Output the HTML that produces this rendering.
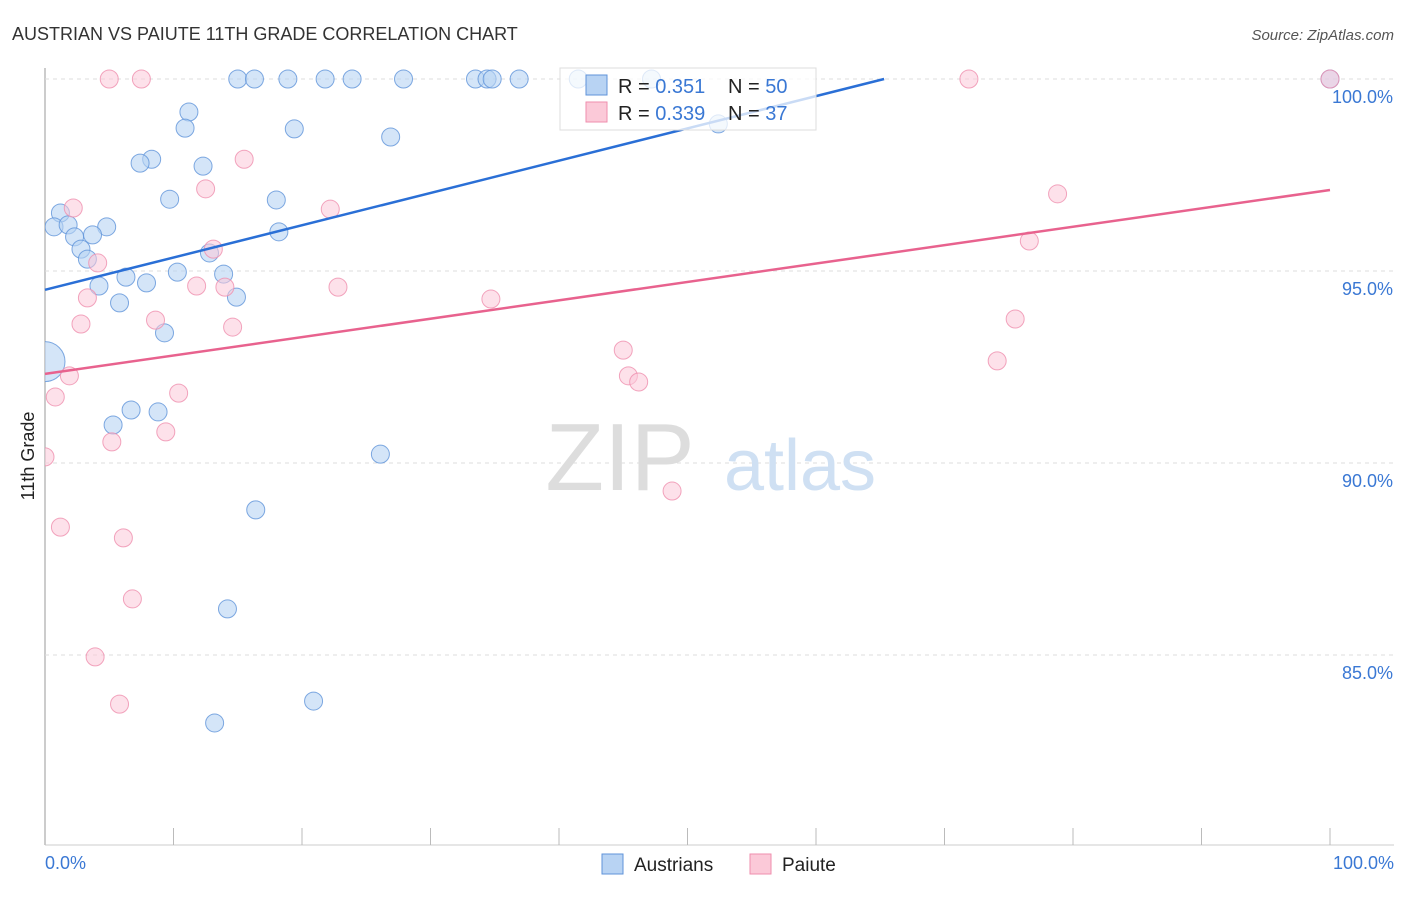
<!DOCTYPE html>
<html><head><meta charset="utf-8"><style>
body{margin:0;background:#fff;font-family:"Liberation Sans",sans-serif;}
svg text{font-family:"Liberation Sans",sans-serif;}
</style></head><body>
<svg id="chart" width="1406" height="892">
<defs><clipPath id="plotclip"><rect x="45" y="60" width="1360" height="786"/></clipPath></defs>
<text x="12" y="40" font-size="18" fill="#333">AUSTRIAN VS PAIUTE 11TH GRADE CORRELATION CHART</text>
<text x="1394" y="40" font-size="15" fill="#555" font-style="italic" text-anchor="end">Source: ZipAtlas.com</text>
<g id="grid"></g>
<text x="620" y="490" font-size="96" fill="#ddd" font-family="Liberation Serif" text-anchor="middle">ZIP</text>
<text x="800" y="490" font-size="72" fill="#cfe0f3" text-anchor="middle">atlas</text>
<g id="points" clip-path="url(#plotclip)"></g>
<g id="lines"></g>
<text transform="translate(34,456) rotate(-90)" font-size="18" fill="#222" text-anchor="middle">11th Grade</text>
<text x="45" y="869" font-size="18" fill="#3a78d4">0.0%</text>
<text x="1394" y="869" font-size="18" fill="#3a78d4" text-anchor="end">100.0%</text>
<g>
<rect x="560" y="68" width="256" height="62" fill="#fff" fill-opacity="0.75" stroke="#ddd"/>
<rect x="586" y="75" width="21" height="20" fill="#b8d3f3" stroke="#5f93da"/>
<rect x="586" y="102" width="21" height="20" fill="#fbc9d8" stroke="#ef8eae"/>
<text x="618" y="93" font-size="20" fill="#222">R = <tspan fill="#3a78d4">0.351</tspan><tspan x="728">N = </tspan><tspan fill="#3a78d4">50</tspan></text>
<text x="618" y="120" font-size="20" fill="#222">R = <tspan fill="#3a78d4">0.339</tspan><tspan x="728">N = </tspan><tspan fill="#3a78d4"> 37</tspan></text>
</g>
<g>
<rect x="602" y="854" width="21" height="20" fill="#b8d3f3" stroke="#5f93da"/>
<text x="634" y="871" font-size="19" fill="#222">Austrians</text>
<rect x="750" y="854" width="21" height="20" fill="#fbc9d8" stroke="#ef8eae"/>
<text x="782" y="871" font-size="19" fill="#222">Paiute</text>
</g>
</svg>
<script>
const yTicks=[100,95,90,85];
const xTickCount=[0,10,20,30,40,50,60,70,80,90,100];
const austX=[15,16.3,18.9,21.8,23.9,27.9,33.5,34.4,34.8,36.9,41.5,47.2,100,11.2,10.9,19.4,26.9,52.4,8.3,7.4,12.3,9.7,18,1.2,0.7,1.8,4.8,2.3,3.7,18.2,2.8,3.3,12.8,6.3,10.3,13.9,4.2,7.9,5.8,14.9,9.3,0,5.3,6.7,8.8,26.1,16.4,14.2,20.9,13.2];
const austY=[100,100,100,100,100,100,100,100,100,100,100,100,100,99.14,98.72,98.7,98.49,98.83,97.91,97.81,97.73,96.87,96.85,96.51,96.15,96.2,96.15,95.89,95.94,96.02,95.57,95.31,95.47,94.84,94.97,94.92,94.61,94.69,94.17,94.32,93.39,92.64,90.99,91.38,91.33,90.23,88.78,86.2,83.8,83.23];
const austR=[9,9,9,9,9,9,9,9,9,9,9,9,9,9,9,9,9,9,9,9,9,9,9,9,9,9,9,9,9,9,9,9,9,9,9,9,9,9,9,9,9,20,9,9,9,9,9,9,9,9];
const paiX=[5,7.5,71.9,100,15.5,12.5,22.2,2.2,78.8,13.1,76.6,4.1,3.3,11.8,14,22.8,34.7,2.8,8.6,14.6,75.5,45,1.9,45.4,46.2,74.1,0.8,10.4,9.4,5.2,0,48.8,1.2,6.1,6.8,3.9,5.8];
const paiY=[100,100,100,100,97.91,97.14,96.61,96.64,97.01,95.57,95.78,95.21,94.3,94.61,94.58,94.58,94.27,93.62,93.72,93.54,93.75,92.94,92.27,92.27,92.11,92.66,91.72,91.82,90.81,90.55,90.16,89.27,88.33,88.05,86.46,84.95,83.72];
const blueLine=[[0,94.51],[65.3,100]];
const pinkLine=[[0,92.32],[100,97.11]];
const X0=45,X1=1330,Ytop=79,pxPer=38.4;
const sx=v=>X0+(X1-X0)*v/100;
const sy=v=>Ytop+(100-v)*pxPer;
const NS='http://www.w3.org/2000/svg';
function mk(tag,attrs,parent){const e=document.createElementNS(NS,tag);for(const k in attrs)e.setAttribute(k,attrs[k]);parent.appendChild(e);return e;}
const grid=document.getElementById('grid');
const ax=mk('line',{x1:45,y1:68,x2:45,y2:845,stroke:'#bbb','stroke-width':1.5},grid);


const bx=mk('line',{x1:45,y1:845,x2:1394,y2:845,stroke:'#ccc'},grid);


yTicks.forEach(t=>{
 const l=mk('line',{x1:45,x2:1394,y1:sy(t),y2:sy(t),stroke:'#ddd','stroke-dasharray':'4,4'},grid);
 
 
 const tx=mk('text',{x:1393,y:sy(t)+24,'font-size':18,fill:'#3a78d4','text-anchor':'end'},grid);
 tx.textContent=t.toFixed(1)+'%';
 
 
});
xTickCount.forEach(t=>{
 const l=mk('line',{x1:sx(t),x2:sx(t),y1:828,y2:845,stroke:'#bbb'},grid);
 
 
});
const pts=document.getElementById('points');
austX.forEach((v,i)=>{
 const c=mk('circle',{cx:sx(v),cy:sy(austY[i]),r:austR[i],fill:'#b8d3f3','fill-opacity':0.6,stroke:'#5f93da','stroke-opacity':0.8},pts);
 
 
});
paiX.forEach((v,i)=>{
 const c=mk('circle',{cx:sx(v),cy:sy(paiY[i]),r:9,fill:'#fbc9d8','fill-opacity':0.55,stroke:'#ef8eae','stroke-opacity':0.8},pts);
 
 
});
const ln=document.getElementById('lines');
const b=mk('line',{x1:sx(blueLine[0][0]),y1:sy(blueLine[0][1]),x2:sx(blueLine[1][0]),y2:sy(blueLine[1][1]),stroke:'#2a6fd6','stroke-width':2.5},ln);


const p=mk('line',{x1:sx(pinkLine[0][0]),y1:sy(pinkLine[0][1]),x2:sx(pinkLine[1][0]),y2:sy(pinkLine[1][1]),stroke:'#e8628e','stroke-width':2.5},ln);


</script>
</body></html>
